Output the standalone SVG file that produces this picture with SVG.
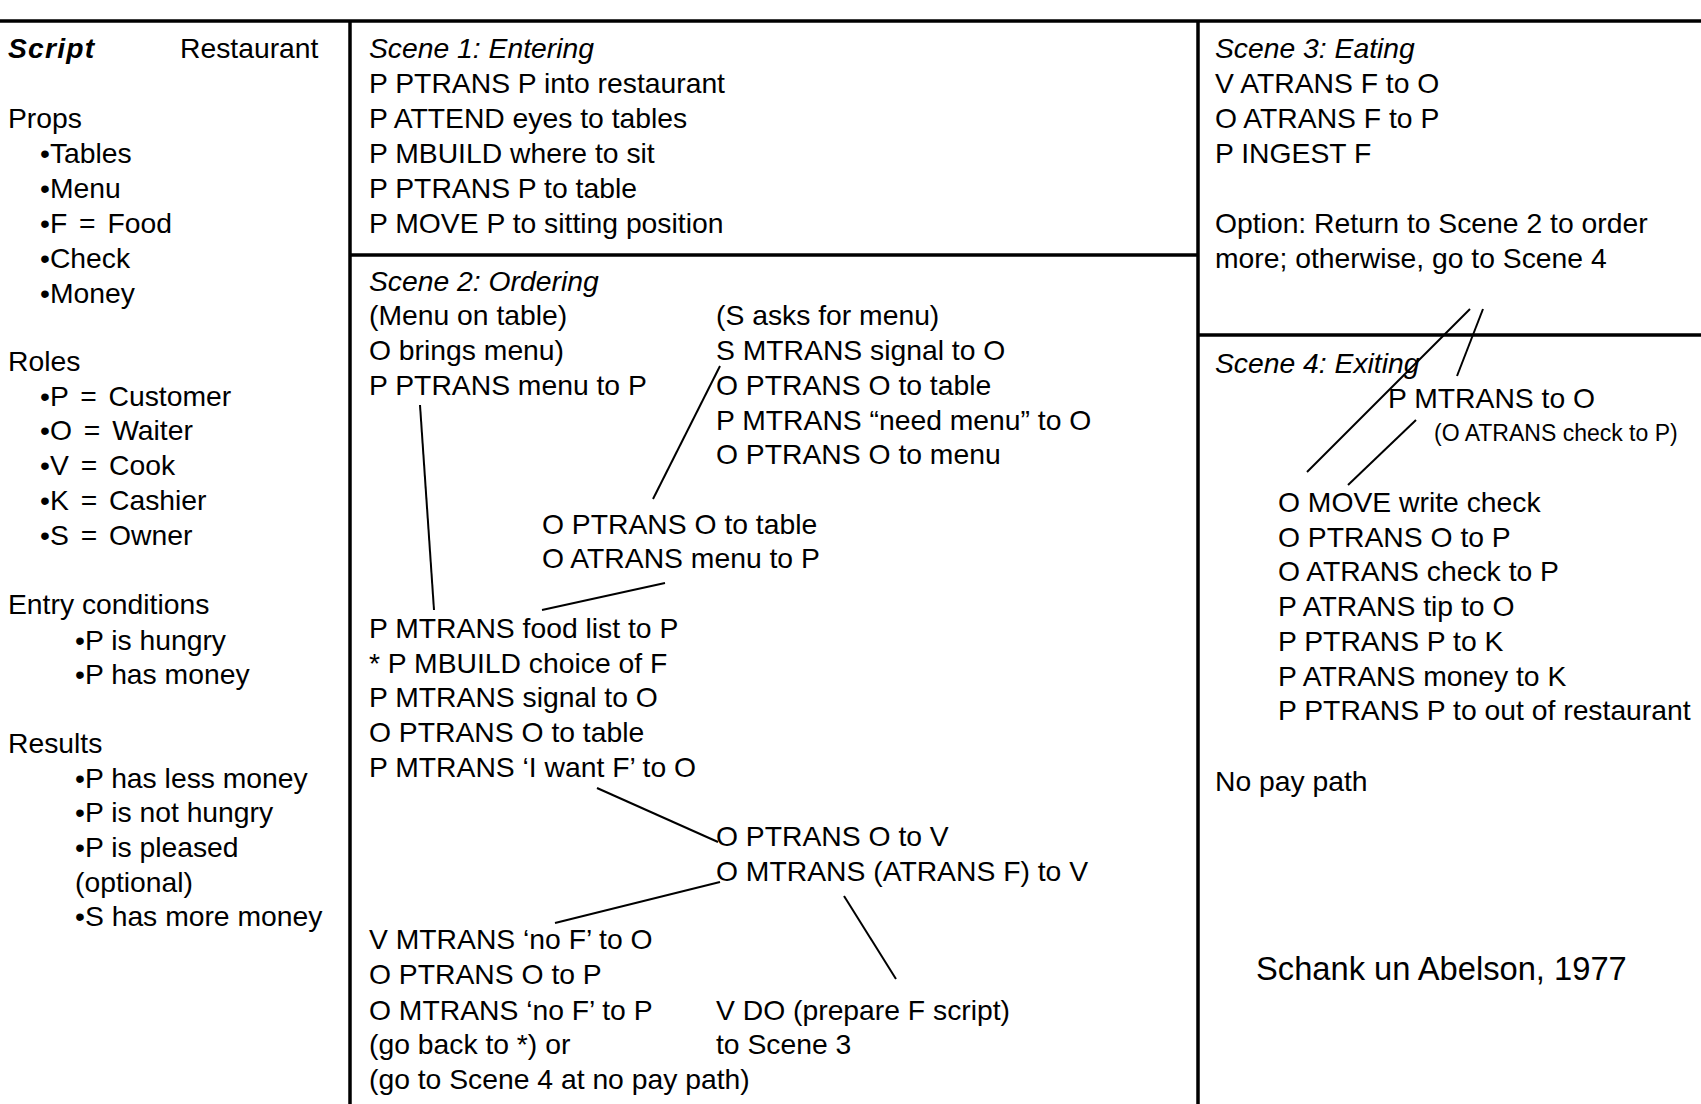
<svg xmlns="http://www.w3.org/2000/svg" width="1701" height="1104" viewBox="0 0 1701 1104">
<style>
text{font-family:"Liberation Sans",Arial,sans-serif;font-size:28.3px;fill:#000}
.it{font-style:italic}
.bi{font-style:italic;font-weight:bold;letter-spacing:1.2px}
.sm{font-size:23px}
.big{font-size:32.7px}
.ws{word-spacing:4px}
.frame{stroke:#000;stroke-width:3.5;fill:none}
.conn line{stroke:#000;stroke-width:2;fill:none}
</style>
<rect width="1701" height="1104" fill="#fff"/>
<g id="frame" class="frame">
<line x1="0" y1="21" x2="1701" y2="21"/>
<line x1="350" y1="21" x2="350" y2="1104"/>
<line x1="1198" y1="21" x2="1198" y2="1104"/>
<line x1="350" y1="255" x2="1198" y2="255"/>
<line x1="1198" y1="335" x2="1701" y2="335"/>
</g>
<g id="script-panel">
<text class="bi" x="8" y="58">Script</text>
<text x="180" y="58">Restaurant</text>
<text x="8" y="128">Props</text>
<text x="40" y="163">•Tables</text>
<text x="40" y="198">•Menu</text>
<text class="ws" x="40" y="233">•F = Food</text>
<text x="40" y="268">•Check</text>
<text x="40" y="303">•Money</text>
<text x="8" y="371">Roles</text>
<text class="ws" x="40" y="406">•P = Customer</text>
<text class="ws" x="40" y="440">•O = Waiter</text>
<text class="ws" x="40" y="475">•V = Cook</text>
<text class="ws" x="40" y="510">•K = Cashier</text>
<text class="ws" x="40" y="545">•S = Owner</text>
<text x="8" y="614">Entry conditions</text>
<text x="75" y="650">•P is hungry</text>
<text x="75" y="684">•P has money</text>
<text x="8" y="753">Results</text>
<text x="75" y="788">•P has less money</text>
<text x="75" y="822">•P is not hungry</text>
<text x="75" y="857">•P is pleased</text>
<text x="75" y="892">(optional)</text>
<text x="75" y="926">•S has more money</text>
</g>
<g id="scene1">
<text class="it" x="369" y="58">Scene 1: Entering</text>
<text x="369" y="93">P PTRANS P into restaurant</text>
<text x="369" y="128">P ATTEND eyes to tables</text>
<text x="369" y="163">P MBUILD where to sit</text>
<text x="369" y="198">P PTRANS P to table</text>
<text x="369" y="233">P MOVE P to sitting position</text>
</g>
<g id="scene2">
<text class="it" x="369" y="291">Scene 2: Ordering</text>
<text x="369" y="325">(Menu on table)</text>
<text x="369" y="360">O brings menu)</text>
<text x="369" y="395">P PTRANS menu to P</text>
<text x="716" y="325">(S asks for menu)</text>
<text x="716" y="360">S MTRANS signal to O</text>
<text x="716" y="395">O PTRANS O to table</text>
<text x="716" y="430">P MTRANS “need menu” to O</text>
<text x="716" y="464">O PTRANS O to menu</text>
<text x="542" y="534">O PTRANS O to table</text>
<text x="542" y="568">O ATRANS menu to P</text>
<text x="369" y="638">P MTRANS food list to P</text>
<text x="369" y="673">* P MBUILD choice of F</text>
<text x="369" y="707">P MTRANS signal to O</text>
<text x="369" y="742">O PTRANS O to table</text>
<text x="369" y="777">P MTRANS ‘I want F’ to O</text>
<text x="716" y="846">O PTRANS O to V</text>
<text x="716" y="881">O MTRANS (ATRANS F) to V</text>
<text x="369" y="949">V MTRANS ‘no F’ to O</text>
<text x="369" y="984">O PTRANS O to P</text>
<text x="369" y="1020">O MTRANS ‘no F’ to P</text>
<text x="369" y="1054">(go back to *) or</text>
<text x="369" y="1089">(go to Scene 4 at no pay path)</text>
<text x="716" y="1020">V DO (prepare F script)</text>
<text x="716" y="1054">to Scene 3</text>
</g>
<g id="scene3">
<text class="it" x="1215" y="58">Scene 3: Eating</text>
<text x="1215" y="93">V ATRANS F to O</text>
<text x="1215" y="128">O ATRANS F to P</text>
<text x="1215" y="163">P INGEST F</text>
<text x="1215" y="233">Option: Return to Scene 2 to order</text>
<text x="1215" y="268">more; otherwise, go to Scene 4</text>
</g>
<g id="scene4">
<text class="it" x="1215" y="373">Scene 4: Exiting</text>
<text x="1388" y="408">P MTRANS to O</text>
<text class="sm" x="1434" y="441">(O ATRANS check to P)</text>
<text x="1278" y="512">O MOVE write check</text>
<text x="1278" y="547">O PTRANS O to P</text>
<text x="1278" y="581">O ATRANS check to P</text>
<text x="1278" y="616">P ATRANS tip to O</text>
<text x="1278" y="651">P PTRANS P to K</text>
<text x="1278" y="686">P ATRANS money to K</text>
<text x="1278" y="720">P PTRANS P to out of restaurant</text>
<text x="1215" y="791">No pay path</text>
<text class="big" x="1256" y="980">Schank un Abelson, 1977</text>
</g>
<g id="connectors" class="conn">
<line x1="420" y1="405" x2="434" y2="610"/>
<line x1="720" y1="366" x2="653" y2="499"/>
<line x1="665" y1="583" x2="542" y2="610"/>
<line x1="597" y1="788" x2="718" y2="842"/>
<line x1="720" y1="882" x2="555" y2="923"/>
<line x1="844" y1="896" x2="896" y2="979"/>
<line x1="1470" y1="309" x2="1307" y2="472"/>
<line x1="1483" y1="309" x2="1457" y2="376"/>
<line x1="1416" y1="420" x2="1348" y2="485"/>
</g>
</svg>
